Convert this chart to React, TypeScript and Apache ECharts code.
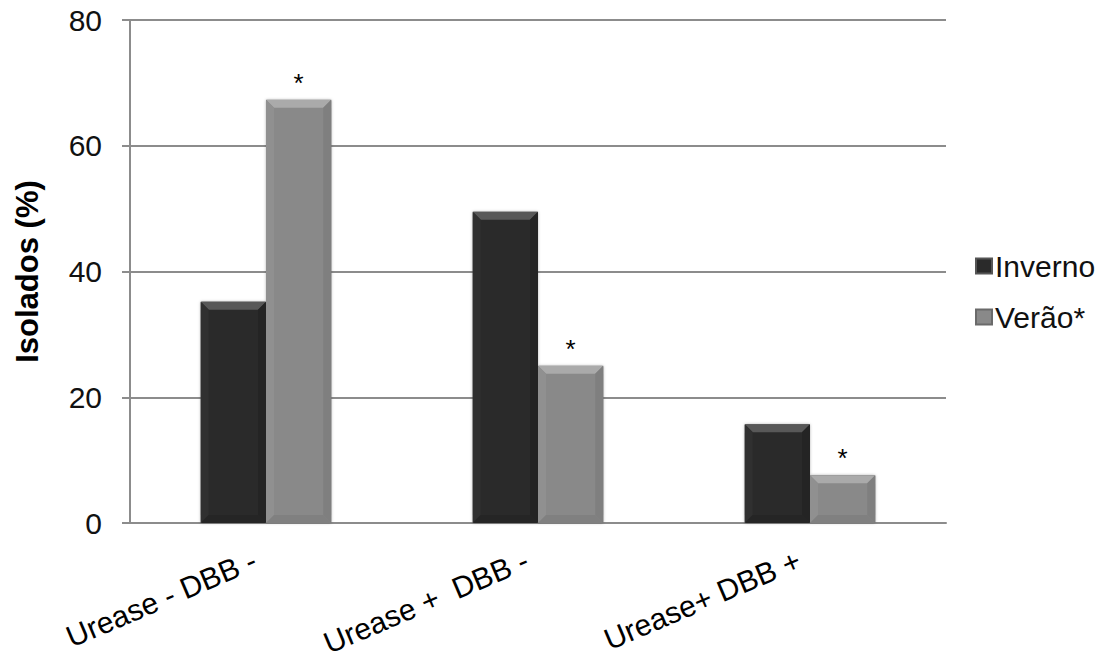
import React, { useEffect, useRef } from "react";
import * as echarts from "echarts";

const categories = ["Urease - DBB -", "Urease +  DBB -", "Urease+ DBB +"];
const inverno = [35.2, 49.5, 15.7];
const verao = [67.3, 25.0, 7.6];
const veraoMarks = ["*", "*", "*"];
const yTicks = { min: 0, max: 80, interval: 20 };

const CAT_GAP = 0.52;

function bevel(side: number, colors: { top: string; left: string; right: string; bottom: string }) {
  return (params: any, api: any) => {
    const cat = api.value(0);
    const val = api.value(1);
    const top = api.coord([cat, val]);
    const base = api.coord([cat, 0]);
    const catW = api.size([1, 0])[0];
    const bw = (catW * (1 - CAT_GAP)) / 2;
    const x0 = side < 0 ? top[0] - bw : top[0];
    const x1 = x0 + bw;
    const y0 = top[1];
    const y1 = base[1];
    const b = Math.min(8, (y1 - y0) / 2, bw / 2);
    const poly = (pts: number[][], fill: string) => ({
      type: "polygon",
      shape: { points: pts },
      style: { fill },
      silent: true,
    });
    return {
      type: "group",
      children: [
        poly([[x0, y0], [x1, y0], [x1 - b, y0 + b], [x0 + b, y0 + b]], colors.top),
        poly([[x0, y0], [x0 + b, y0 + b], [x0 + b, y1 - b], [x0, y1]], colors.left),
        poly([[x1, y0], [x1 - b, y0 + b], [x1 - b, y1 - b], [x1, y1]], colors.right),
        poly([[x0, y1], [x0 + b, y1 - b], [x1 - b, y1 - b], [x1, y1]], colors.bottom),
      ],
    };
  };
}

export default function App() {
  const ref = useRef<HTMLDivElement>(null);
  useEffect(() => {
    if (!ref.current) return;
    const chart = echarts.init(ref.current, undefined, { renderer: "svg" });
    const font = "'Liberation Sans', Arial, Helvetica, sans-serif";
    chart.setOption({
      animation: false,
      backgroundColor: "#ffffff",
      textStyle: { fontFamily: font },
      grid: {
        left: 130,
        right: 163,
        top: 20,
        bottom: 137,
        containLabel: false,
        outerBoundsMode: "none",
      },
      legend: {
        orient: "vertical",
        left: 970,
        top: 246,
        itemWidth: 16,
        itemHeight: 15,
        itemGap: 21,
        icon: "rect",
        textStyle: { fontSize: 30, color: "#111", fontFamily: font, padding: [0, 0, 0, -2] },
        data: ["Inverno", "Verão*"],
      },
      xAxis: {
        type: "category",
        data: categories,
        axisLine: { lineStyle: { color: "#8c8c8c", width: 2 } },
        axisTick: { show: false },
        axisLabel: {
          rotate: 23,
          interval: 0,
          margin: 31,
          padding: [0, 12, 0, 0],
          fontSize: 30,
          color: "#000",
          fontFamily: font,
        },
      },
      yAxis: {
        type: "value",
        min: yTicks.min,
        max: yTicks.max,
        interval: yTicks.interval,
        name: "Isolados (%)",
        nameLocation: "middle",
        nameRotate: 90,
        nameGap: 87,
        nameTextStyle: { fontSize: 31, fontWeight: "bold", color: "#000", fontFamily: font },
        axisLine: { show: true, lineStyle: { color: "#8c8c8c", width: 2 } },
        axisTick: { show: true, length: 8, lineStyle: { color: "#8c8c8c", width: 2 } },
        axisLabel: { fontSize: 30, color: "#111", margin: 28, fontFamily: font },
        splitLine: { show: true, lineStyle: { color: "#8c8c8c", width: 2 } },
      },
      series: [
        {
          name: "Inverno",
          type: "bar",
          data: inverno,
          barGap: "0%",
          barCategoryGap: "52%",
          itemStyle: {
            color: "#2a2a2a",
            borderColor: "#555555",
            borderWidth: 1,
            shadowColor: "rgba(0,0,0,0.3)",
            shadowBlur: 3,
          },
        },
        {
          name: "Verão*",
          type: "bar",
          data: verao,
          barGap: "0%",
          barCategoryGap: "52%",
          itemStyle: {
            color: "#898989",
            borderColor: "#6a6a6a",
            borderWidth: 1,
            shadowColor: "rgba(0,0,0,0.3)",
            shadowBlur: 3,
          },
          label: {
            show: true,
            position: "top",
            distance: 4,
            formatter: (p: any) => veraoMarks[p.dataIndex],
            fontSize: 26,
            color: "#000",
            fontFamily: font,
          },
        },
        {
          name: "bevel-inverno",
          type: "custom",
          z: 5,
          silent: true,
          data: inverno.map((v, i) => [i, v]),
          renderItem: bevel(-1, { top: "#585858", left: "#303030", right: "#242424", bottom: "#252525" }),
        },
        {
          name: "bevel-verao",
          type: "custom",
          z: 5,
          silent: true,
          data: verao.map((v, i) => [i, v]),
          renderItem: bevel(1, { top: "#aaaaaa", left: "#909090", right: "#7f7f7f", bottom: "#808080" }),
        },
      ],
    });
    return () => chart.dispose();
  }, []);
  return <div ref={ref} style={{ width: 1109, height: 660, position: "absolute", left: 0, top: 0 }} />;
}
